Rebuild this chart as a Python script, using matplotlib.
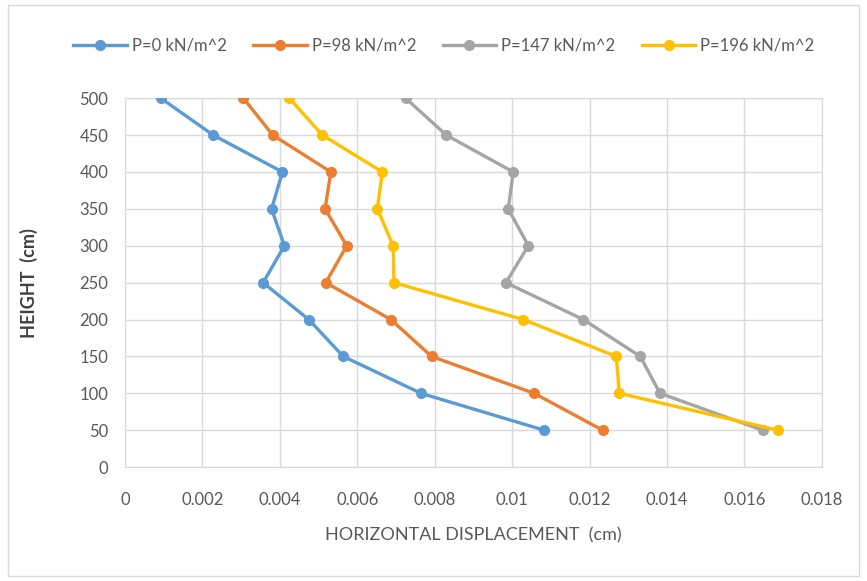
import matplotlib
matplotlib.use("Agg")
import matplotlib.pyplot as plt
from matplotlib.patches import Rectangle

plt.rcParams['font.family'] = ['Lato', 'DejaVu Sans']

heights = [500, 450, 400, 350, 300, 250, 200, 150, 100, 50]
disp_p0 = [0.00093, 0.00228, 0.00407, 0.00379, 0.00412, 0.00357, 0.00475, 0.00564, 0.00765, 0.01083]
disp_p98 = [0.00306, 0.00382, 0.00532, 0.00517, 0.00573, 0.00519, 0.00687, 0.00792, 0.01057, 0.01234]
disp_p147 = [0.00725, 0.00830, 0.01003, 0.00990, 0.01042, 0.00984, 0.01184, 0.01331, 0.01382, 0.01647]
disp_p196 = [0.00425, 0.00510, 0.00665, 0.00652, 0.00693, 0.00695, 0.01029, 0.01269, 0.01277, 0.01687]
series_labels = ["P=0 kN/m^2", "P=98 kN/m^2", "P=147 kN/m^2", "P=196 kN/m^2"]
colors = ["#5B9BD5", "#ED7D31", "#A5A5A5", "#FFC000"]
x_ticks = [0, 0.002, 0.004, 0.006, 0.008, 0.01, 0.012, 0.014, 0.016, 0.018]
x_tick_labels = ["0", "0.002", "0.004", "0.006", "0.008", "0.01", "0.012", "0.014", "0.016", "0.018"]
y_ticks = list(range(0, 501, 50))

fig = plt.figure(figsize=(8.67, 5.81), dpi=100)
ax = fig.add_axes([0.144, 0.196, 0.804, 0.635])

for data, lab, col in zip([disp_p0, disp_p98, disp_p147, disp_p196], series_labels, colors):
    ax.plot(data, heights, color=col, lw=2.4, marker='o', ms=7, label=lab, zorder=3)

ax.set_xlim(0, 0.018)
ax.set_ylim(0, 500)
ax.set_xticks(x_ticks)
ax.set_xticklabels(x_tick_labels)
ax.set_yticks(y_ticks)
ax.grid(True, color='#d9d9d9', lw=1.0, zorder=0)
for s in ax.spines.values():
    s.set_color('#d9d9d9')
ax.tick_params(axis='both', length=0, labelsize=12, colors='#595959')
ax.tick_params(axis='x', pad=18)
ax.tick_params(axis='y', pad=12)

ax.set_xlabel("HORIZONTAL DISPLACEMENT  (cm)", fontsize=13, color='#595959', labelpad=14)
ax.set_ylabel("HEIGHT  (cm)", fontsize=13, color='#404040', fontweight='bold', labelpad=30)

fig.legend(loc='center', bbox_to_anchor=(0.512, 0.921), ncol=4, frameon=False,
           fontsize=12, labelcolor='#595959', handlelength=3.2, columnspacing=1.6,
           handletextpad=0.3)

fig.patches.append(Rectangle((0.009, 0.008), 0.982, 0.984, transform=fig.transFigure,
                             fill=False, edgecolor='#d9d9d9', lw=1.0))

fig.savefig("out.png", dpi=100, facecolor='white')
